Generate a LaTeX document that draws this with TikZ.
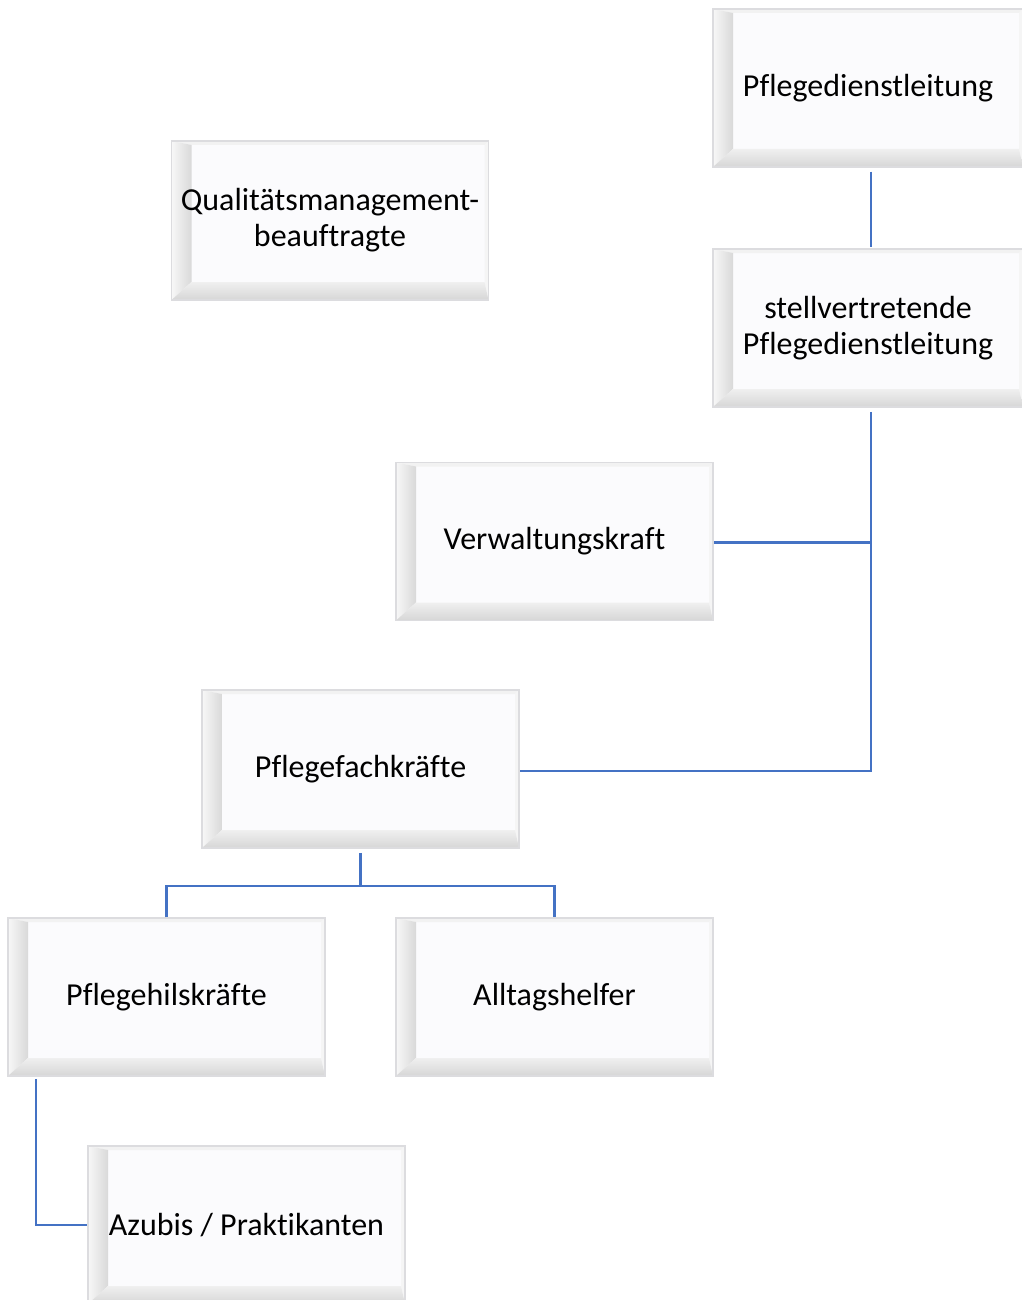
\documentclass[tikz,border=0pt]{standalone}
\usepackage{fontspec}
\setmainfont{Carlito}[Ligatures=CommonOff]
\usetikzlibrary{calc}
\definecolor{facecol}{HTML}{FBFBFD}
\definecolor{rimcol}{HTML}{DCDCDF}
\definecolor{conncol}{HTML}{4472C4}
\newcommand\bxfont{\fontsize{32}{36}\selectfont}
\tikzset{
  bx/.style={draw=rimcol, line width=1.5pt, fill=facecol, minimum width=317pt,
    minimum height=158pt, inner sep=0pt, align=center, font=\bxfont,
    path picture={
      \coordinate (NW) at (path picture bounding box.north west);
      \coordinate (NE) at (path picture bounding box.north east);
      \coordinate (SW) at (path picture bounding box.south west);
      \coordinate (SE) at (path picture bounding box.south east);
      \coordinate (iNW) at ([shift={(20pt,-4pt)}]NW);
      \coordinate (iNE) at ([shift={(-4pt,-4pt)}]NE);
      \coordinate (iSW) at ([shift={(20pt,18pt)}]SW);
      \coordinate (iSE) at ([shift={(-4pt,18pt)}]SE);
      \fill[gray!10] (NW) -- (NE) -- (iNE) -- (iNW) -- cycle;
      \fill[gray!8] (NE) -- (SE) -- (iSE) -- (iNE) -- cycle;
      \shade[left color=gray!6, right color=gray!30] (NW) -- (iNW) -- (iSW) -- (SW) -- cycle;
      \shade[top color=gray!12, bottom color=gray!32] (SW) -- (iSW) -- (iSE) -- (SE) -- cycle;
    }},
  conn/.style={draw=conncol, line width=2.4pt}
}
\begin{document}
\begin{tikzpicture}[x=1pt,y=-1pt]
\useasboundingbox (0,0) rectangle (1021,1300);
\node[bx, minimum width=310pt] (pdl) at (868,88) {Pflegedienstleitung};
\node[bx, minimum width=310pt] (stv) at (868,328) {stellvertretende\\Pflegedienstleitung};
\node[bx, minimum height=159pt] (qm) at (330,220.5) {Qualitätsmanagement-\\beauftragte};
\node[bx] (verw) at (554.5,541.5) {Verwaltungskraft};
\node[bx] (pfk) at (360.5,769) {Pflegefachkräfte};
\node[bx] (phk) at (166.5,997) {Pflegehilskräfte};
\node[bx] (all) at (554.5,997) {Alltagshelfer};
\node[bx] (azu) at (246.5,1225) {Azubis / Praktikanten};
% connectors
\draw[conn] ([xshift=3pt,yshift=-4pt]pdl.south) -- ([xshift=3pt,yshift=1pt]stv.north);
\coordinate (spine) at ([xshift=3pt,yshift=-4pt]stv.south);
\draw[conn] (spine) |- ([yshift=-2pt]pfk.east);
\draw[conn] ([yshift=-1pt]verw.east) -- ([yshift=-1pt]verw.east -| spine);
\coordinate (bar) at ([yshift=-37pt]pfk.south);
\draw[conn] ([yshift=-4pt]pfk.south) -- (bar);
\draw[conn] (phk.north) |- (bar) -| (all.north);
\draw[conn] ([xshift=29pt,yshift=-2pt]phk.south west) |- (azu.west);
\end{tikzpicture}
\end{document}
